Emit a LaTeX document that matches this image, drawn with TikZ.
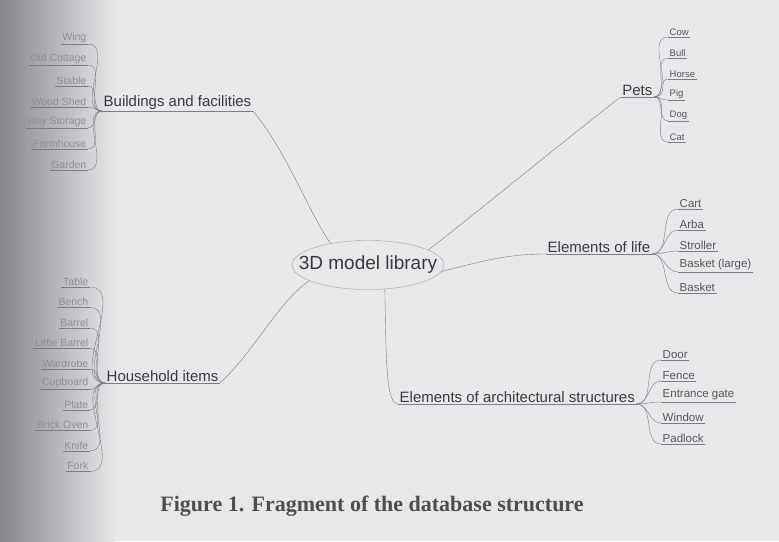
\documentclass[tikz,border=0pt]{standalone}
\usepackage{fontspec}
\setmainfont{Liberation Serif}
\newfontfamily\mapfont{Liberation Sans}
\usetikzlibrary{positioning,shapes.geometric}
\definecolor{Paper}{HTML}{E8E8EB}
\definecolor{Shadow}{HTML}{86868A}
\definecolor{Ink}{HTML}{3A3A3E}
\definecolor{Branch}{HTML}{7C7C82}
\definecolor{Faded}{HTML}{8E8E94}

\begin{document}
\begin{tikzpicture}[x=1pt, y=-1pt,
  topic/.style={ellipse, draw=Branch!70, thin, inner xsep=-15.5pt, inner ysep=8.5pt,
    font=\mapfont\fontsize{19}{19}\selectfont, text=Ink},
  group/.style={font=\mapfont\fontsize{15}{15}\selectfont, text=Ink, inner sep=1.5pt},
  leaf/.style={font=\mapfont\fontsize{11.5}{12}\selectfont, text=Ink!85, inner sep=1.5pt},
  small leaf/.style={leaf, font=\mapfont\fontsize{9.5}{10}\selectfont},
  faint/.style={leaf, font=\mapfont\fontsize{10.5}{11}\selectfont, text=Faded},
  link/.style={draw=Branch, thin},
  caption/.style={font=\fontsize{22}{24}\selectfont\bfseries, text=Ink!90}
]
  \useasboundingbox (0,0) rectangle (779,541);
  \fill[Paper] (0,0) rectangle (779,541);
  \shade[left color=Shadow, right color=Paper] (0,0) rectangle (115,541);

  \node[topic] (lib) at (368,265) {3D model library};

  % groups
  \node[group, anchor=south west] (build) at (102,111) {Buildings and facilities};
  \node[group, anchor=south west] (house) at (105,383) {Household items};
  \node[group, anchor=south east] (pets) at (654,97) {Pets};
  \node[group, anchor=south west] (life) at (546,254) {Elements of life};
  \node[group, anchor=south west] (arch) at (398,404) {Elements of architectural structures};
  \foreach \g in {build,house,pets,life,arch}
    \draw[link] (\g.south west) -- (\g.south east);

  % branches
  \draw[link] (build.south east) .. controls (286,150) and (310,215) .. (lib.150);
  \draw[link] (house.south east) .. controls (255,350) and (280,300) .. (lib.195);
  \draw[link] (pets.south west) .. controls (540,160) and (480,210) .. (lib.14);
  \draw[link] (life.south west) .. controls (505,254) and (480,262) .. (lib.355);
  \draw[link] (lib.305) .. controls (386,370) and (387,404) .. (arch.south west);

  % leaves
  \foreach \name [count=\i] in {Wing,Old Cottage,Stable,Wood Shed,Hay Storage,Farmhouse,Garden} {
    \node[faint, anchor=south east] (bld\i) at (88,23+21*\i) {\name};
    \draw[link] (bld\i.south west) -- (bld\i.south east);
    \draw[link] (build.south west) to[out=180, in=0] (bld\i.south east);
  }
  \foreach \name [count=\i] in {Table,Bench,Barrel,Little Barrel,Wardrobe,Cupboard,Plate,Brick Oven,Knife,Fork} {
    \node[faint, anchor=south east] (hh\i) at (90,266.5+20.5*\i) {\name};
    \draw[link] (hh\i.south west) -- (hh\i.south east);
    \draw[link] (house.south west) to[out=180, in=0] (hh\i.south east);
  }
  \foreach \name [count=\i] in {Cow,Bull,Horse,Pig,Dog,Cat} {
    \node[small leaf, anchor=south west] (pet\i) at (668,16+21*\i) {\name};
    \draw[link] (pet\i.south west) -- (pet\i.south east);
    \draw[link] (pets.south east) to[out=0, in=180] (pet\i.south west);
  }
  \foreach \name [count=\i] in {Cart,Arba,Stroller,{Basket (large)},Basket} {
    \node[leaf, anchor=south west] (lf\i) at (678,188+21*\i) {\name};
    \draw[link] (lf\i.south west) -- (lf\i.south east);
    \draw[link] (life.south east) to[out=0, in=180] (lf\i.south west);
  }
  \foreach \name [count=\i] in {Door,Fence,Entrance gate,Window,Padlock} {
    \node[leaf, anchor=south west] (ar\i) at (661,339+21*\i) {\name};
    \draw[link] (ar\i.south west) -- (ar\i.south east);
    \draw[link] (arch.south east) to[out=0, in=180] (ar\i.south west);
  }

  \node[caption] (cap) at (372,506) {Figure 1. Fragment of the database structure};
\end{tikzpicture}
\end{document}
